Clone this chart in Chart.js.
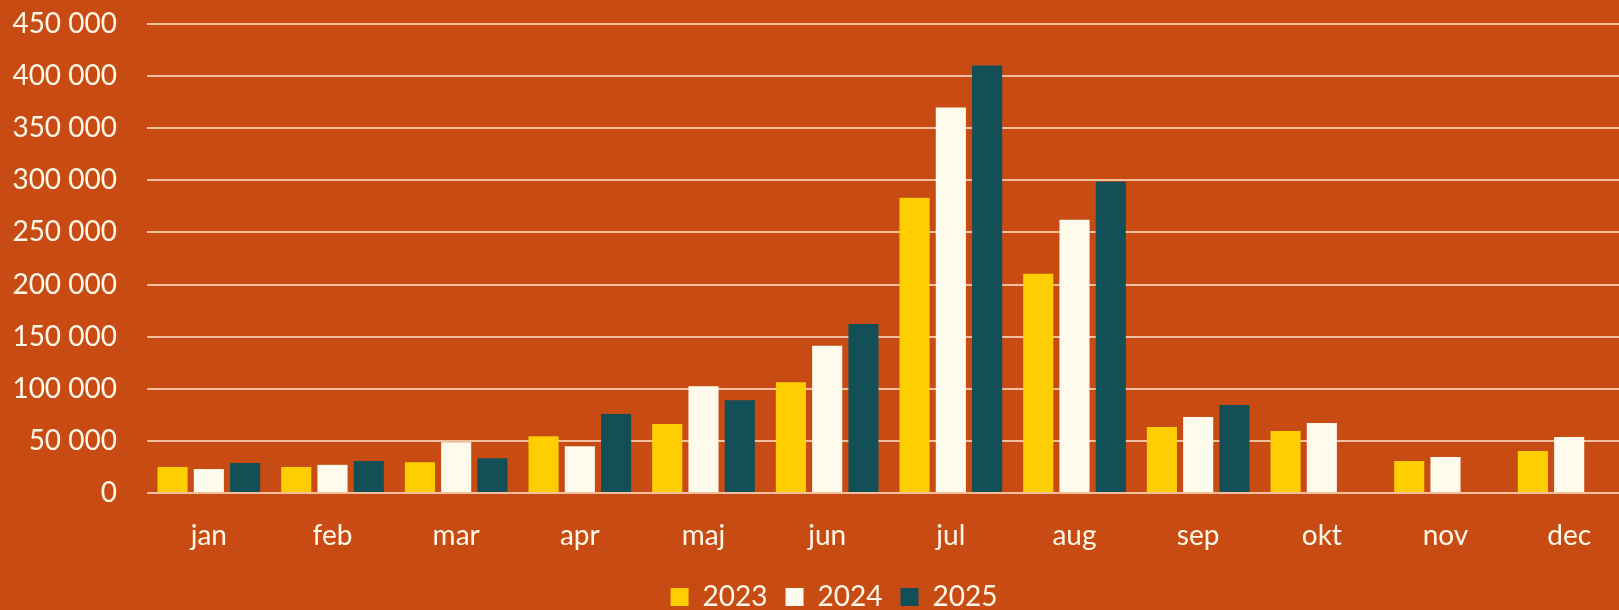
<!DOCTYPE html>
<html>
<head>
<meta charset="utf-8">
<script src="https://cdn.jsdelivr.net/npm/chart.js@4"></script>
<style>
  html, body { margin: 0; padding: 0; background: #c94b14; overflow: hidden; }
  #wrap { position: absolute; left: 0; top: 0; width: 1631px; height: 621px; }
</style>
</head>
<body>
<div id="wrap"><canvas id="chart"></canvas></div>
<script>
// months on the x axis
const months = ['jan', 'feb', 'mar', 'apr', 'maj', 'jun', 'jul', 'aug', 'sep', 'okt', 'nov', 'dec'];

// values per year (okt-dec 2025 missing)
const y2023 = [25000, 25000, 29500, 54500, 66100, 106200, 283400, 210300, 63300, 59500, 30700, 40300];
const y2024 = [23000, 27000, 48800, 44900, 102500, 141400, 369900, 262200, 72900, 67200, 34500, 53700];
const y2025 = [28800, 30700, 33400, 75700, 89100, 162200, 410300, 298750, 84500, null, null, null];

const yearLabels = ['2023', '2024', '2025'];

const cream = '#fff8e8';
const font = { family: 'Lato, "Open Sans", sans-serif', size: 28 };

// legend in the original sits a bit right of the canvas centre
const shiftLegend = {
  id: 'shiftLegend',
  afterLayout(chart) {
    chart.legend.left += 13;
    chart.legend.right += 13;
  }
};

function renderChart() {
  const ctx = document.getElementById('chart').getContext('2d');
  new Chart(ctx, {
    type: 'bar',
    data: {
      labels: months,
      datasets: [
        { label: yearLabels[0], data: y2023, backgroundColor: '#ffce00' },
        { label: yearLabels[1], data: y2024, backgroundColor: '#fffbec' },
        { label: yearLabels[2], data: y2025, backgroundColor: '#134f57' }
      ]
    },
    plugins: [shiftLegend],
    options: {
      animation: false,
      responsive: true,
      maintainAspectRatio: false,
      layout: { padding: { left: 11, right: 0, top: 24, bottom: 0 } },
      datasets: { bar: { categoryPercentage: 0.88, barPercentage: 0.83 } },
      plugins: {
        tooltip: { enabled: false },
        legend: {
          position: 'bottom',
          labels: { color: cream, font: font, boxWidth: 18, boxHeight: 18, padding: 18 }
        }
      },
      scales: {
        x: {
          grid: { display: false, drawTicks: false },
          border: { display: false },
          ticks: { color: cream, font: font, padding: 26 },
          afterFit: (s) => { s.height = 72; }
        },
        y: {
          min: 0,
          max: 450000,
          grid: { color: '#f0c09e', lineWidth: 2, drawTicks: false },
          border: { display: false },
          ticks: {
            stepSize: 50000,
            color: cream,
            font: font,
            padding: 30,
            callback: (v) => String(v).replace(/\B(?=(\d{3})+(?!\d))/g, ' ')
          },
          afterFit: (s) => {
            s.width = 136;
            s.paddingTop = 0;
            s.paddingBottom = 0;
          }
        }
      }
    }
  });
}

renderChart();
</script>
</body>
</html>
